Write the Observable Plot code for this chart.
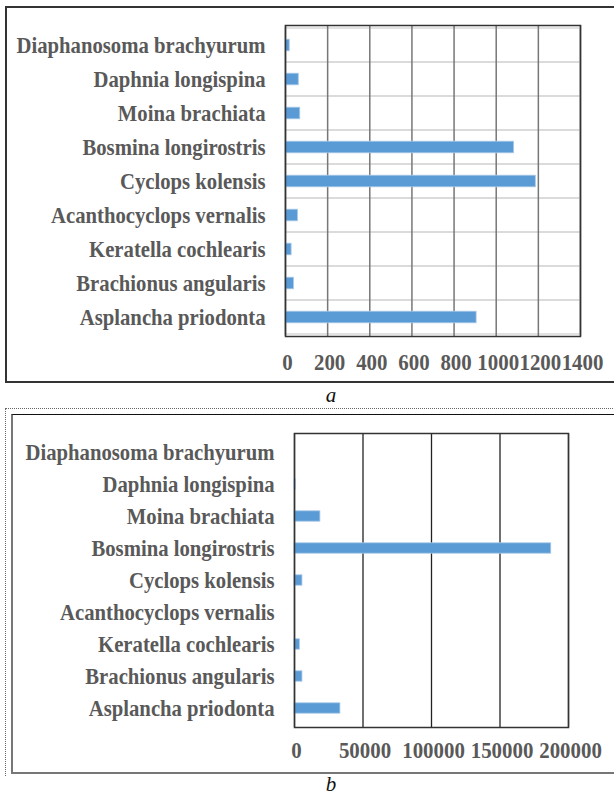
<!DOCTYPE html>
<html><head><meta charset="utf-8">
<script src="https://cdn.jsdelivr.net/npm/d3@7"></script>
<script src="https://cdn.jsdelivr.net/npm/@observablehq/plot@0.6"></script>
<style>
html,body{margin:0;padding:0;width:614px;height:796px;overflow:hidden;background:#fff;}
.abs{position:absolute;box-sizing:border-box;}
.cap{position:absolute;left:0;width:662px;text-align:center;font-family:"Liberation Serif",serif;font-style:italic;font-size:21px;line-height:20px;color:#111;}
svg{position:absolute;left:0;}
</style></head><body>
<div class="abs" style="left:5px;top:6px;width:660px;height:377px;border:2px solid #333;border-right:none;"></div>
<div class="abs" style="left:5px;top:408px;width:660px;height:368px;border-top:1px dotted #666;border-left:1px dotted #666;"></div>
<div class="abs" style="left:11px;top:414px;width:660px;height:360px;border-top:1px solid #111;border-left:2px solid #777;border-bottom:2px solid #777;"></div>
<div class="cap" style="top:385px;">a</div>
<div class="cap" style="top:774px;">b</div>
<div id="pa"></div>
<div id="pb"></div>
<script>
const species = ["Diaphanosoma brachyurum","Daphnia longispina","Moina brachiata","Bosmina longirostris","Cyclops kolensis","Acanthocyclops vernalis","Keratella cochlearis","Brachionus angularis","Asplancha priodonta"];
const valuesA = [20, 63, 70, 1085, 1188, 59, 29, 40, 907];
const valuesB = [0, 1000, 18900, 187400, 5800, 0, 3900, 5800, 33500];
const ticksA = [0, 200, 400, 600, 800, 1000, 1200, 1400];
const ticksB = [0, 50000, 100000, 150000, 200000];

const dataA = species.map((s, i) => ({s, v: valuesA[i]}));
const dataB = species.map((s, i) => ({s, v: valuesB[i]}));

const baseStyle = {fontFamily: "'Liberation Serif', 'Times New Roman', serif", fontWeight: "bold", color: "#595959", background: "none", overflow: "visible"};

// narrow the glyphs horizontally (the reference text is tall and narrow)
function condense(svg) {
  svg.querySelectorAll("text").forEach(t => {
    const tr = t.getAttribute("transform") || "";
    const k = t.getAttribute("text-anchor") === "end" || t.closest("[text-anchor='end']") ? 0.9 : 0.87;
    t.setAttribute("transform", tr + ` scale(${k},1)`);
  });
  return svg;
}

const plotA = Plot.plot({
  width: 614, height: 383,
  marginLeft: 285, marginRight: 34, marginTop: 25, marginBottom: 47,
  style: baseStyle,
  x: {domain: [0, 1400]},
  y: {domain: species, padding: 0},
  marks: [
    Plot.barX(species, {x1: ticksA[0], x2: ticksA[ticksA.length - 1], y: d => d, fill: "none", stroke: "#d9d9d9", strokeWidth: 1.5}),
    Plot.ruleX(ticksA, {stroke: "#777", strokeWidth: 1.5}),
    Plot.barX(dataA, {x: "v", y: "s", fill: "#5b9bd5", stroke: "#a9c9e8", strokeWidth: 0.8, insetTop: 11.2, insetBottom: 11.2}),
    Plot.frame({stroke: "#333", strokeWidth: 1.5}),
    Plot.axisX(ticksA, {tickSize: 0, tickPadding: 16, fontSize: 24, dx: 2, tickFormat: d => String(d), label: null}),
    Plot.axisY(species, {tickSize: 0, tickPadding: 20, fontSize: 23, label: null})
  ]
});
plotA.style.top = "0px";
document.getElementById("pa").appendChild(condense(plotA));

const plotB = Plot.plot({
  width: 614, height: 380,
  marginLeft: 294, marginRight: 46, marginTop: 33, marginBottom: 53,
  style: baseStyle,
  x: {domain: [0, 200000]},
  y: {domain: species, padding: 0},
  marks: [
    Plot.ruleX(ticksB, {stroke: "#222", strokeWidth: 1.3}),
    Plot.barX(dataB, {x: "v", y: "s", fill: "#5b9bd5", stroke: "#a9c9e8", strokeWidth: 0.8, insetTop: 10.8, insetBottom: 10.8}),
    Plot.frame({stroke: "#333", strokeWidth: 1.5}),
    Plot.axisX(ticksB, {tickSize: 0, tickPadding: 13, fontSize: 24, dx: 2, tickFormat: d => String(d), label: null}),
    Plot.axisY(species, {tickSize: 0, tickPadding: 20, fontSize: 23, label: null})
  ]
});
plotB.style.top = "400px";
document.getElementById("pb").appendChild(condense(plotB));
</script>
</body></html>
